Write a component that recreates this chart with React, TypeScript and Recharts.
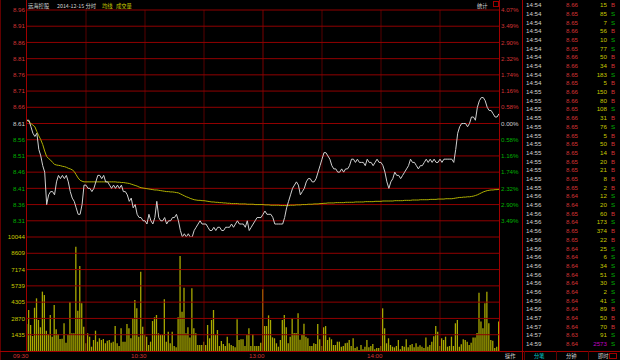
import React from 'react';
import { ComposedChart, Line, Bar, XAxis, YAxis, ReferenceLine } from 'recharts';

// ---------- data ----------
const PRICE_TICKS = [8.96, 8.91, 8.86, 8.81, 8.76, 8.71, 8.66, 8.61, 8.56, 8.51, 8.46, 8.41, 8.36, 8.31];
const PCT_LABELS = ['4.07%', '3.49%', '2.90%', '2.32%', '1.74%', '1.16%', '0.58%', '0.00%', '0.58%', '1.16%', '1.74%', '2.32%', '2.90%', '3.49%'];
const PREV_CLOSE = 8.61;
const VOL_TICKS = [1435, 2870, 4305, 5739, 7174, 8609, 10044];
const TIME_TICKS = [0, 60, 120, 180];
const TIME_LABELS = ['09:30', '10:30', '13:00', '14:00'];
const GRID_MINUTES = [30, 60, 90, 120, 150, 180, 210];

const PRICE = [
  8.62, 8.62, 8.60, 8.58, 8.57, 8.58, 8.53, 8.51, 8.48, 8.46,
  8.36, 8.39, 8.40, 8.40, 8.39, 8.43, 8.45, 8.44, 8.45, 8.44,
  8.45, 8.43, 8.40, 8.38, 8.37, 8.35, 8.33, 8.33, 8.36, 8.42,
  8.42, 8.41, 8.41, 8.40, 8.41, 8.43, 8.45, 8.45, 8.44, 8.45,
  8.43, 8.43, 8.42, 8.41, 8.42, 8.41, 8.42, 8.41, 8.42, 8.40,
  8.40, 8.39, 8.37, 8.38, 8.35, 8.36, 8.33, 8.32, 8.32, 8.31,
  8.31, 8.30, 8.33, 8.31, 8.30, 8.32, 8.37, 8.32, 8.31, 8.31,
  8.32, 8.30, 8.31, 8.31, 8.32, 8.32, 8.33, 8.31, 8.28, 8.26,
  8.27, 8.26, 8.27, 8.26, 8.26, 8.28, 8.29, 8.30, 8.31, 8.30,
  8.30, 8.30, 8.29, 8.28, 8.28, 8.29, 8.28, 8.29, 8.29, 8.28,
  8.28, 8.29, 8.29, 8.29, 8.30, 8.29, 8.30, 8.31, 8.30, 8.30,
  8.30, 8.29, 8.31, 8.28, 8.29, 8.30, 8.31, 8.32, 8.32, 8.32,
  8.33, 8.34, 8.33, 8.33, 8.33, 8.32, 8.30, 8.30, 8.30, 8.30,
  8.30, 8.32, 8.35, 8.37, 8.39, 8.41, 8.42, 8.43, 8.42, 8.39,
  8.40, 8.41, 8.43, 8.44, 8.44, 8.43, 8.43, 8.44, 8.46, 8.48,
  8.50, 8.52, 8.52, 8.51, 8.50, 8.48, 8.47, 8.47, 8.46, 8.46,
  8.47, 8.46, 8.47, 8.47, 8.48, 8.50, 8.50, 8.49, 8.50, 8.49,
  8.49, 8.49, 8.48, 8.50, 8.49, 8.49, 8.48, 8.49, 8.50, 8.49,
  8.49, 8.48, 8.46, 8.43, 8.41, 8.43, 8.44, 8.46, 8.45, 8.45,
  8.44, 8.45, 8.46, 8.47, 8.48, 8.50, 8.49, 8.49, 8.48, 8.47,
  8.48, 8.48, 8.49, 8.50, 8.49, 8.50, 8.49, 8.50, 8.49, 8.49,
  8.50, 8.49, 8.50, 8.50, 8.50, 8.50, 8.50, 8.49, 8.53, 8.58,
  8.60, 8.61, 8.61, 8.61, 8.60, 8.61, 8.63, 8.63, 8.62, 8.66,
  8.68, 8.69, 8.69, 8.68, 8.66, 8.65, 8.65, 8.64, 8.63, 8.63,
  8.64,
];

const AVG = [
  8.620, 8.615, 8.610, 8.605, 8.600, 8.585, 8.572, 8.560, 8.545, 8.525,
  8.508, 8.502, 8.497, 8.490, 8.484, 8.482, 8.481, 8.480, 8.478, 8.477,
  8.475, 8.472, 8.470, 8.467, 8.462, 8.452, 8.442, 8.435, 8.432, 8.430,
  8.430, 8.430, 8.430, 8.430, 8.430, 8.430, 8.430, 8.430, 8.430, 8.430,
  8.430, 8.430, 8.430, 8.430, 8.430, 8.430, 8.429, 8.429, 8.428, 8.428,
  8.427, 8.426, 8.425, 8.423, 8.421, 8.419, 8.417, 8.414, 8.412, 8.411,
  8.410, 8.409, 8.408, 8.407, 8.406, 8.405, 8.405, 8.404, 8.403, 8.402,
  8.401, 8.400, 8.400, 8.399, 8.399, 8.398, 8.397, 8.396, 8.393, 8.390,
  8.387, 8.384, 8.382, 8.379, 8.377, 8.375, 8.374, 8.373, 8.373, 8.372,
  8.372, 8.371, 8.370, 8.369, 8.368, 8.368, 8.367, 8.367, 8.366, 8.366,
  8.365, 8.365, 8.364, 8.364, 8.363, 8.363, 8.363, 8.363, 8.362, 8.362,
  8.362, 8.362, 8.361, 8.361, 8.361, 8.361, 8.360, 8.360, 8.360, 8.360,
  8.360, 8.359, 8.359, 8.359, 8.358, 8.358, 8.358, 8.358, 8.358, 8.357,
  8.357, 8.357, 8.357, 8.357, 8.358, 8.358, 8.358, 8.359, 8.359, 8.359,
  8.360, 8.360, 8.360, 8.361, 8.361, 8.361, 8.362, 8.362, 8.362, 8.363,
  8.363, 8.364, 8.364, 8.365, 8.365, 8.365, 8.365, 8.366, 8.366, 8.366,
  8.366, 8.366, 8.367, 8.367, 8.367, 8.367, 8.367, 8.368, 8.368, 8.368,
  8.368, 8.368, 8.369, 8.369, 8.369, 8.369, 8.369, 8.370, 8.370, 8.370,
  8.370, 8.371, 8.371, 8.371, 8.371, 8.371, 8.371, 8.372, 8.372, 8.372,
  8.372, 8.372, 8.373, 8.373, 8.373, 8.373, 8.374, 8.374, 8.374, 8.374,
  8.375, 8.375, 8.375, 8.375, 8.375, 8.376, 8.376, 8.376, 8.376, 8.377,
  8.377, 8.377, 8.377, 8.378, 8.378, 8.378, 8.378, 8.379, 8.380, 8.381,
  8.382, 8.382, 8.383, 8.383, 8.384, 8.384, 8.385, 8.386, 8.388, 8.390,
  8.393, 8.396, 8.399, 8.401, 8.403, 8.404, 8.405, 8.405, 8.406, 8.406,
  8.407,
];

const VOLUME = [
  2380, 3610, 2290, 1320, 3810, 4640, 2730, 2090, 5230, 4930,
  1790, 1500, 3170, 1260, 4050, 1910, 1500, 1060, 1080, 2440,
  730, 1410, 4320, 1560, 1560, 9190, 3550, 7490, 4200, 2140,
  680, 1560, 1260, 380, 970, 1790, 820, 1120, 970, 1060,
  680, 900, 970, 730, 820, 2200, 680, 440, 2000, 820,
  820, 2380, 2000, 1120, 2880, 4490, 3760, 1260, 6990, 2140,
  1410, 1260, 530, 820, 2640, 2970, 3170, 1560, 1410, 1410,
  4550, 820, 1700, 680, 1700, 440, 320, 2970, 8370, 3460,
  5580, 1560, 2090, 1200, 5520, 2000, 1560, 530, 530, 530,
  820, 530, 2290, 1120, 2730, 3610, 1410, 1850, 440, 880,
  620, 440, 1260, 680, 530, 440, 320, 2790, 970, 1030,
  1030, 440, 1410, 2000, 440, 1470, 440, 440, 440, 730,
  5430, 2200, 2200, 3140, 2730, 1200, 1120, 680, 380, 970,
  2730, 3170, 2090, 680, 1260, 2880, 1590, 1590, 3320, 1000,
  1410, 2410, 1260, 1120, 440, 440, 680, 620, 2380, 1030,
  440, 2090, 2200, 970, 1200, 1030, 530, 530, 820, 820,
  380, 440, 680, 730, 970, 440, 1120, 270, 380, 90,
  530, 150, 380, 970, 320, 440, 620, 150, 270, 270,
  440, 3760, 2000, 680, 1120, 530, 380, 320, 440, 970,
  150, 440, 380, 1030, 320, 530, 620, 320, 680, 380,
  500, 380, 270, 1200, 380, 530, 820, 1290, 2200, 1700,
  440, 1120, 970, 1260, 380, 440, 1260, 440, 2440, 2730,
  380, 600, 1030, 970, 820, 530, 730, 1200, 1200, 1590,
  5140, 2590, 2000, 4200, 5230, 2440, 970, 910, 270, 380,
  2590,
];

const TRADE_TIMES = [
  '14:54', '14:54', '14:54', '14:54', '14:54', '14:54', '14:54', '14:54', '14:54', '14:54',
  '14:55', '14:55', '14:55', '14:55', '14:55', '14:55', '14:55', '14:55', '14:55', '14:55',
  '14:55', '14:55', '14:56', '14:56', '14:56', '14:56', '14:56', '14:56', '14:56', '14:56',
  '14:56', '14:56', '14:56', '14:56', '14:56', '14:56', '14:57', '14:57', '14:57', '14:59',
];
const TRADE_PRICES = [
  '8.66', '8.65', '8.65', '8.66', '8.65', '8.65', '8.66', '8.66', '8.65', '8.65',
  '8.66', '8.66', '8.65', '8.66', '8.65', '8.65', '8.65', '8.65', '8.65', '8.65',
  '8.65', '8.65', '8.64', '8.64', '8.65', '8.64', '8.65', '8.65', '8.64', '8.64',
  '8.64', '8.64', '8.64', '8.64', '8.64', '8.64', '8.64', '8.64', '8.63', '8.64',
];
const TRADE_VOLS = [
  '15', '85', '7', '56', '10', '77', '50', '34', '183', '5',
  '150', '80', '108', '31', '76', '5', '50', '14', '20', '21',
  '8', '2', '12', '20', '60', '173', '374', '22', '25', '6',
  '34', '51', '30', '2', '41', '89', '50', '70', '91', '2573',
];
const TRADE_SIDES = [
  'B', 'S', 'S', 'B', 'S', 'S', 'B', 'B', 'S', 'B',
  'B', 'B', 'S', 'B', 'S', 'B', 'B', 'B', 'B', 'B',
  'B', 'B', 'S', 'S', 'B', 'S', 'B', 'B', 'S', 'S',
  'S', 'S', 'S', 'S', 'S', 'B', 'B', 'B', 'S', 'S',
];

const HEADER_NAME = '远海控股';
const HEADER_DATE = '2014-12-15 分时';
const HEADER_AVG = '均线';
const HEADER_VOL = '成交量';
const STAT_LABEL = '统计';
const TABS = ['操作', '分笔', '分钟', '即时'];

// ---------- styles ----------
const RED_TXT = '#d23434';
const GREEN_TXT = '#00b000';
const WHITE_TXT = '#d0d0d0';
const YELLOW_TXT = '#c8c800';
const GRID_H = '#900000';
const GRID_V = '#560000';
const FRAME = '#a00000';
const PRICE_COLOR = '#d0d0d0';
const AVG_COLOR = '#b0b000';
const VOL_COLOR = '#a8a800';
const NUM_FONT = '"Liberation Sans", Arial, sans-serif';
const CJK_FONT = '"Noto Sans CJK SC", sans-serif';
const FS = 6.2;

const priceData = PRICE.map((p, i) => ({ m: i, price: p, avg: AVG[i] }));
const volData = VOLUME.map((v, i) => ({ m: i, vol: v }));

const colorFor = (v: number) =>
  v > PREV_CLOSE + 1e-6 ? RED_TXT : v < PREV_CLOSE - 1e-6 ? GREEN_TXT : WHITE_TXT;

const LeftPriceTick = (props: any) => {
  const { x, y, payload } = props;
  const v = payload.value as number;
  return (
    <text x={x} y={y} dy={2.2} textAnchor="end" fill={colorFor(v)} fontSize={FS} fontFamily={NUM_FONT}>
      {v.toFixed(2)}
    </text>
  );
};

const RightPctTick = (props: any) => {
  const { x, y, payload } = props;
  const v = payload.value as number;
  let idx = 0;
  PRICE_TICKS.forEach((t, i) => {
    if (Math.abs(t - v) < 1e-6) idx = i;
  });
  return (
    <text x={x} y={y} dy={2.2} textAnchor="start" fill={colorFor(v)} fontSize={FS} fontFamily={NUM_FONT}>
      {PCT_LABELS[idx]}
    </text>
  );
};

const VolTickLeft = (props: any) => {
  const { x, y, payload } = props;
  return (
    <text x={x} y={y} dy={2.2} textAnchor="end" fill={YELLOW_TXT} fontSize={FS} fontFamily={NUM_FONT}>
      {String(payload.value)}
    </text>
  );
};

const VolTickRight = (props: any) => {
  const { x, y, payload } = props;
  return (
    <text x={x} y={y} dy={2.2} textAnchor="start" fill={YELLOW_TXT} fontSize={FS} fontFamily={NUM_FONT}>
      {String(payload.value)}
    </text>
  );
};

const TimeTick = (props: any) => {
  const { x, y, payload } = props;
  const i = TIME_TICKS.indexOf(payload.value);
  return (
    <text x={x + 1.5} y={y} dy={6.8} textAnchor="end" fill={RED_TXT} fontSize={FS} fontFamily={NUM_FONT}>
      {TIME_LABELS[i]}
    </text>
  );
};

const ROW0 = 5;
const ROW_H = 8.69;

export default function App() {
  return (
    <div style={{ position: 'absolute', left: 0, top: 0, width: 620, height: 360, background: '#000', overflow: 'hidden' }}>
      {/* price pane */}
      <div style={{ position: 'absolute', left: 0, top: 0 }}>
        <ComposedChart width={522} height={237} data={priceData} margin={{ top: 10, right: 0, bottom: 0, left: 0 }}>
          <XAxis dataKey="m" type="number" domain={[0, 240]} hide />
          <YAxis
            yAxisId="p"
            domain={[8.26, 8.96]}
            ticks={PRICE_TICKS}
            interval={0}
            width={27}
            tickSize={0}
            tickMargin={2}
            tickLine={false}
            axisLine={false}
            tick={<LeftPriceTick />}
            allowDataOverflow
          />
          <YAxis
            yAxisId="pct"
            orientation="right"
            domain={[8.26, 8.96]}
            ticks={PRICE_TICKS}
            interval={0}
            width={23}
            tickSize={0}
            tickMargin={2}
            tickLine={false}
            axisLine={false}
            tick={<RightPctTick />}
            allowDataOverflow
          />
          {GRID_MINUTES.map((m) => (
            <ReferenceLine key={'v' + m} yAxisId="p" x={m} stroke={m === 120 ? '#7a0000' : GRID_V} strokeWidth={1} />
          ))}
          {PRICE_TICKS.map((t) => (
            <ReferenceLine key={'h' + t} yAxisId="p" y={t} stroke={GRID_H} strokeWidth={1} />
          ))}
          <Line yAxisId="p" type="linear" dataKey="avg" stroke={AVG_COLOR} strokeWidth={1} dot={false} isAnimationActive={false} />
          <Line yAxisId="p" type="linear" dataKey="price" stroke={PRICE_COLOR} strokeWidth={1} dot={false} isAnimationActive={false} />
        </ComposedChart>
      </div>

      {/* volume pane */}
      <div style={{ position: 'absolute', left: 0, top: 227 }}>
        <ComposedChart width={522} height={134} data={volData} margin={{ top: 10, right: 0, bottom: 0, left: 0 }}>
          <XAxis
            dataKey="m"
            type="number"
            domain={[0, 240]}
            ticks={TIME_TICKS}
            interval={0}
            height={10}
            tickSize={0}
            tickMargin={0}
            tickLine={false}
            axisLine={false}
            tick={<TimeTick />}
          />
          <YAxis
            yAxisId="v"
            domain={[0, 10044]}
            ticks={VOL_TICKS}
            interval={0}
            width={27}
            tickSize={0}
            tickMargin={2}
            tickLine={false}
            axisLine={false}
            tick={<VolTickLeft />}
          />
          <YAxis
            yAxisId="v2"
            orientation="right"
            domain={[0, 10044]}
            ticks={VOL_TICKS}
            interval={0}
            width={23}
            tickSize={0}
            tickMargin={2}
            tickLine={false}
            axisLine={false}
            tick={<VolTickRight />}
          />
          {GRID_MINUTES.map((m) => (
            <ReferenceLine key={'vv' + m} yAxisId="v" x={m} stroke={m === 120 ? '#7a0000' : GRID_V} strokeWidth={1} />
          ))}
          {VOL_TICKS.map((t) => (
            <ReferenceLine key={'vh' + t} yAxisId="v" y={t} stroke={GRID_H} strokeWidth={1} />
          ))}
          <Bar yAxisId="v" dataKey="vol" fill={VOL_COLOR} barSize={1.3} isAnimationActive={false} />
        </ComposedChart>
      </div>

      {/* frame, header, trade list, tabs */}
      <svg width={620} height={360} style={{ position: 'absolute', left: 0, top: 0, pointerEvents: 'none' }}>
        <line x1={0.5} y1={0} x2={0.5} y2={360} stroke="#600000" />
        <line x1={26.5} y1={0} x2={26.5} y2={351} stroke={FRAME} />
        <line x1={499.5} y1={0} x2={499.5} y2={351} stroke={FRAME} />
        <line x1={522.5} y1={0} x2={522.5} y2={360} stroke={FRAME} />
        <line x1={0} y1={351.5} x2={620} y2={351.5} stroke={FRAME} />
        <line x1={524.5} y1={351} x2={524.5} y2={360} stroke="#600000" />
        <line x1={556.5} y1={351} x2={556.5} y2={360} stroke="#600000" />
        <line x1={588.5} y1={351} x2={588.5} y2={360} stroke="#600000" />

        <text x={28} y={7.5} fill={WHITE_TXT} fontSize={5.3} fontFamily={CJK_FONT}>{HEADER_NAME}</text>
        <text x={57} y={7.5} fill={WHITE_TXT} fontSize={5.3} fontFamily={CJK_FONT}>{HEADER_DATE}</text>
        <text x={102} y={7.5} fill={YELLOW_TXT} fontSize={5.3} fontFamily={CJK_FONT}>{HEADER_AVG}</text>
        <text x={116} y={7.5} fill={YELLOW_TXT} fontSize={5.3} fontFamily={CJK_FONT}>{HEADER_VOL}</text>
        <text x={477} y={7.5} fill={WHITE_TXT} fontSize={5.3} fontFamily={CJK_FONT}>{STAT_LABEL}</text>
        <rect x={493.5} y={1.5} width={5} height={5} fill="none" stroke={FRAME} />

        {TRADE_TIMES.map((t, i) => {
          const y = ROW0 + i * ROW_H + 2.2;
          const isLast = i === TRADE_TIMES.length - 1;
          return (
            <g key={'tr' + i} fontSize={FS} fontFamily={NUM_FONT}>
              <text x={526} y={y} fill={WHITE_TXT}>{t}</text>
              <text x={566} y={y} fill={RED_TXT}>{TRADE_PRICES[i]}</text>
              <text x={607} y={y} textAnchor="end" fill={isLast ? '#c000c0' : YELLOW_TXT}>{TRADE_VOLS[i]}</text>
              <text x={611} y={y} fill={TRADE_SIDES[i] === 'B' ? RED_TXT : GREEN_TXT}>{TRADE_SIDES[i]}</text>
            </g>
          );
        })}

        <text x={505} y={358} fill={WHITE_TXT} fontSize={5.3} fontFamily={CJK_FONT}>{TABS[0]}</text>
        <text x={534} y={358} fill="#00c8c8" fontSize={5.3} fontFamily={CJK_FONT}>{TABS[1]}</text>
        <text x={566} y={358} fill={WHITE_TXT} fontSize={5.3} fontFamily={CJK_FONT}>{TABS[2]}</text>
        <text x={598} y={358} fill={WHITE_TXT} fontSize={5.3} fontFamily={CJK_FONT}>{TABS[3]}</text>
        <rect x={609.5} y={353.5} width={7} height={5} fill="none" stroke={FRAME} />
      </svg>
    </div>
  );
}
